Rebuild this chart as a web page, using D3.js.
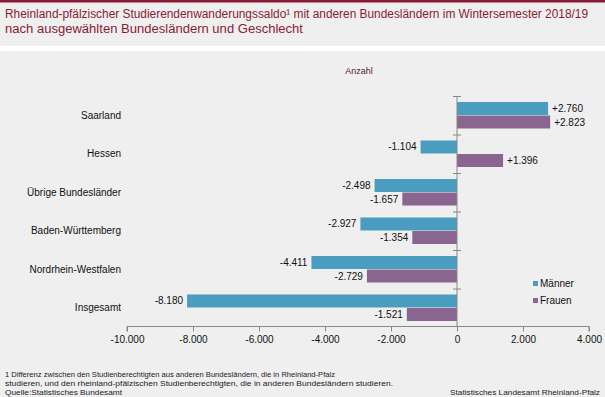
<!DOCTYPE html>
<html>
<head>
<meta charset="utf-8">
<script src="https://cdn.jsdelivr.net/npm/d3@7"></script>
<style>
  html, body { margin: 0; padding: 0; background: #fff; }
  svg { display: block; font-family: "Liberation Sans", Arial, sans-serif; }
</style>
</head>
<body>
<div id="chart"></div>
<script>
// Studierendenwanderungssaldo RLP, WS 2018/19 — horizontal grouped bars

const categories = ["Saarland", "Hessen", "Übrige Bundesländer", "Baden-Württemberg", "Nordrhein-Westfalen", "Insgesamt"];
const maenner    = [2760, -1104, -2498, -2927, -4411, -8180];
const frauen     = [2823, 1396, -1657, -1354, -2729, -1521];
const seriesNames = ["Männer", "Frauen"];
const xTicks     = [-10000, -8000, -6000, -4000, -2000, 0, 2000, 4000];

const W = 605, H = 397;
const COLORS = { "Männer": "#4a9dbf", "Frauen": "#8a6590" };
const RED = "#8a1b36";

const svg = d3.select("#chart").append("svg")
  .attr("width", W).attr("height", H);

// ── Frame ────────────────────────────────────────────────────────────────
svg.append("rect").attr("width", W).attr("height", H).attr("fill", "#eeefee");
svg.append("rect").attr("width", W).attr("height", 2.5).attr("fill", RED);
svg.append("rect").attr("y", 46).attr("width", W).attr("height", 5).attr("fill", "#fff");

svg.append("text")
  .attr("x", 5).attr("y", 18)
  .style("font-size", "12px").style("fill", RED)
  .selectAll("tspan")
  .data(["Rheinland-pfälzischer Studierendenwanderungssaldo\u00b9 mit anderen Bundesländern im Wintersemester 2018/19",
         "nach ausgewählten Bundesländern und Geschlecht"])
  .join("tspan")
    .attr("x", 5).attr("dy", (d, i) => i ? 15 : 0)
    .attr("textLength", (d, i) => i ? 298 : 583)
    .attr("lengthAdjust", "spacingAndGlyphs")
    .text(d => d);

svg.append("text")
  .attr("x", 359).attr("y", 74)
  .attr("text-anchor", "middle")
  .style("font-size", "9px").style("fill", "#5a2230")
  .text("Anzahl");

// ── Scales ───────────────────────────────────────────────────────────────
const x = d3.scaleLinear().domain([-10000, 4000]).range([127, 589]);
const y = d3.scaleBand().domain(categories).range([96, 327]);
const sub = d3.scaleBand().domain(seriesNames).range([6, y.bandwidth() - 6]).paddingInner(0.04);

const fmt = v => (v > 0 ? "+" : "") + d3.format(",")(v).replace(/,/g, ".").replace("−", "-");

const rows = categories.map((c, i) => ({ cat: c, "Männer": maenner[i], "Frauen": frauen[i] }));

// ── Bars ─────────────────────────────────────────────────────────────────
const g = svg.append("g");
rows.forEach(r => {
  seriesNames.forEach(s => {
    const v = r[s];
    const y0 = y(r.cat) + sub(s);
    g.append("rect")
      .attr("x", Math.min(x(0), x(v)))
      .attr("y", y0)
      .attr("width", Math.abs(x(v) - x(0)))
      .attr("height", sub.bandwidth())
      .attr("fill", COLORS[s]);
    g.append("text")
      .attr("x", v < 0 ? x(v) - 4 : x(v) + 4)
      .attr("y", y0 + sub.bandwidth() / 2 + 3.5)
      .attr("text-anchor", v < 0 ? "end" : "start")
      .style("font-size", "10px").style("fill", "#111")
      .text(fmt(v));
  });
});

// ── Axes ─────────────────────────────────────────────────────────────────
const xAxis = svg.append("g")
  .attr("transform", `translate(0,${y.range()[1] - 0.5})`)
  .call(d3.axisBottom(x).tickValues(xTicks).tickSize(5).tickPadding(4)
    .tickFormat(d => d3.format(",.0f")(d).replace(/,/g, ".").replace("−", "-")));
xAxis.select(".domain").attr("stroke", "#888").attr("d", `M${x(-10000)},5V0H${x(4000)}V5`);
xAxis.selectAll(".tick line").attr("stroke", "#888");
xAxis.selectAll("text").style("font-size", "10px").style("fill", "#111").style("font-family", "Liberation Sans, Arial, sans-serif");

const yAxis = svg.append("g");
yAxis.append("line")
  .attr("x1", x(0)).attr("x2", x(0))
  .attr("y1", y.range()[0]).attr("y2", y.range()[1])
  .attr("stroke", "#888");
yAxis.selectAll("line.tk")
  .data(categories.map(c => y(c)))
  .join("line").attr("class", "tk")
  .attr("x1", x(0) - 4).attr("x2", x(0) + 4)
  .attr("y1", d => d + 0.5).attr("y2", d => d + 0.5)
  .attr("stroke", "#888");

svg.append("g").selectAll("text")
  .data(categories)
  .join("text")
    .attr("x", 121)
    .attr("y", d => y(d) + y.bandwidth() / 2 + 3.5)
    .attr("text-anchor", "end")
    .style("font-size", "10px").style("fill", "#111")
    .text(d => d);

// ── Legend ───────────────────────────────────────────────────────────────
const leg = svg.append("g").attr("transform", "translate(533,281)");
seriesNames.forEach((s, i) => {
  leg.append("rect").attr("y", i * 17).attr("width", 5).attr("height", 5).attr("fill", COLORS[s]);
  leg.append("text").attr("x", 7).attr("y", i * 17 + 5.5)
    .style("font-size", "10px").style("fill", "#111").text(s);
});

// ── Footnotes ────────────────────────────────────────────────────────────
const notes = [
  "1 Differenz  zwischen den Studienberechtigten aus anderen  Bundesländern,  die in Rheinland-Pfalz",
  "studieren, und den rheinland-pfälzischen  Studienberechtigten,  die in anderen  Bundesländern  studieren.",
  "Quelle:Statistisches Bundesamt"
];
const noteLen = [330, 388, 117];
svg.append("g").selectAll("text")
  .data(notes)
  .join("text")
    .attr("x", 5).attr("y", (d, i) => 377 + i * 9)
    .attr("textLength", (d, i) => noteLen[i])
    .attr("lengthAdjust", "spacingAndGlyphs")
    .style("font-size", "8px").style("fill", "#222")
    .text(d => d);

svg.append("text")
  .attr("x", 450).attr("y", 395)
  .attr("textLength", 150)
  .attr("lengthAdjust", "spacingAndGlyphs")
  .style("font-size", "8px").style("fill", "#222")
  .text("Statistisches Landesamt  Rheinland-Pfalz");
</script>
</body>
</html>
